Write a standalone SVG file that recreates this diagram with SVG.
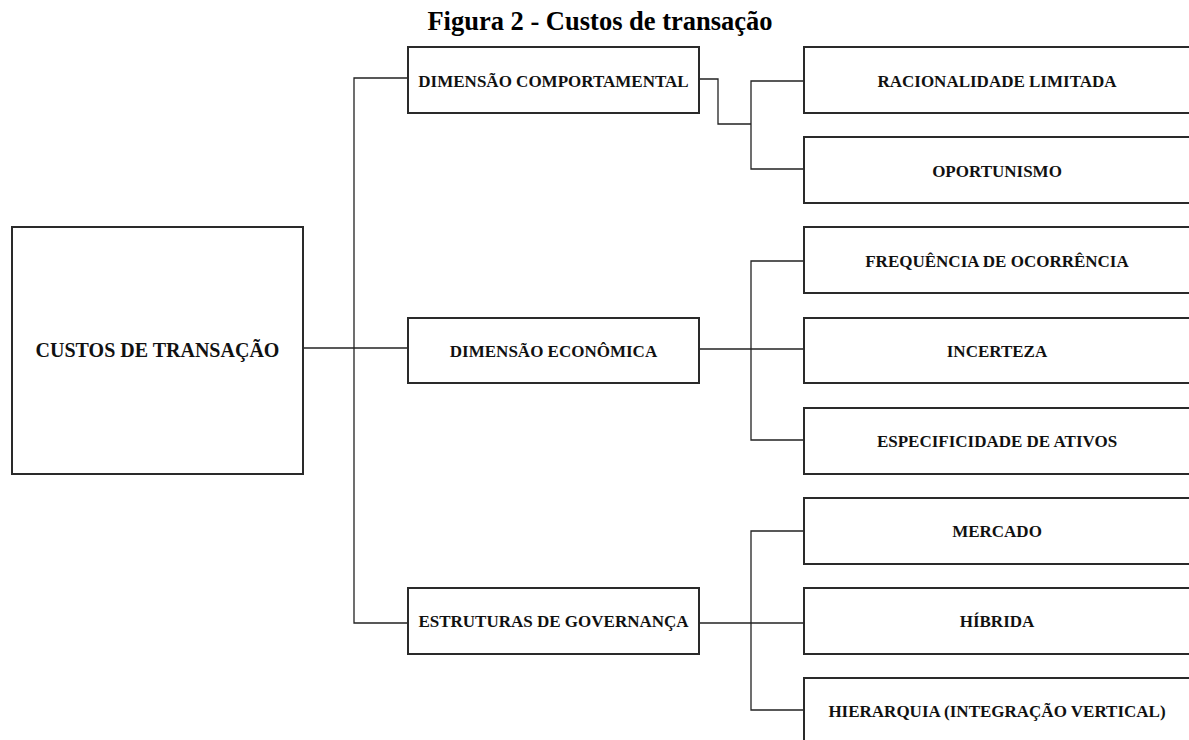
<svg xmlns="http://www.w3.org/2000/svg" width="1189" height="740" viewBox="0 0 1189 740">
<style>
.box{fill:#fff;stroke:#2a2a2a;stroke-width:2}
.lbl{font-family:"Liberation Serif","Times New Roman",serif;font-weight:bold;font-size:17px;fill:#111;text-anchor:middle}
.conn{fill:none;stroke:#222;stroke-width:1.3}
</style>
<rect width="1189" height="740" fill="#fff"/>
<text x="600" y="30" style="font-family:'Liberation Serif','Times New Roman',serif;font-weight:bold;font-size:26.5px;fill:#000;text-anchor:middle">Figura 2 - Custos de transação</text>
<g id="connectors">
<polyline class="conn" points="303,348 408,348"/>
<polyline class="conn" points="408,78 354,78 354,623 408,623"/>
<polyline class="conn" points="699,79 718,79 718,124 751,124"/>
<polyline class="conn" points="804,81 751,81 751,169 804,169"/>
<polyline class="conn" points="699,349 804,349"/>
<polyline class="conn" points="804,261 751,261 751,440 804,440"/>
<polyline class="conn" points="699,623 804,623"/>
<polyline class="conn" points="804,531 751,531 751,710 804,710"/>
</g>
<g id="n-custos"><rect class="box" x="12" y="227" width="291" height="247"/><text class="lbl" x="157.5" y="357" style="font-size:20px">CUSTOS DE TRANSAÇÃO</text></g>
<g id="n-comportamental"><rect class="box" x="408" y="47" width="291" height="66"/><text class="lbl" x="553.5" y="87">DIMENSÃO COMPORTAMENTAL</text></g>
<g id="n-economica"><rect class="box" x="408" y="318" width="291" height="65"/><text class="lbl" x="553.5" y="357">DIMENSÃO ECONÔMICA</text></g>
<g id="n-governanca"><rect class="box" x="408" y="588" width="291" height="66"/><text class="lbl" x="553.5" y="627">ESTRUTURAS DE GOVERNANÇA</text></g>
<g id="n-racionalidade"><rect class="box" x="804" y="47" width="390" height="66"/><text class="lbl" x="997" y="87">RACIONALIDADE LIMITADA</text></g>
<g id="n-oportunismo"><rect class="box" x="804" y="137" width="390" height="66"/><text class="lbl" x="997" y="177">OPORTUNISMO</text></g>
<g id="n-frequencia"><rect class="box" x="804" y="227" width="390" height="66"/><text class="lbl" x="997" y="267">FREQUÊNCIA DE OCORRÊNCIA</text></g>
<g id="n-incerteza"><rect class="box" x="804" y="318" width="390" height="65"/><text class="lbl" x="997" y="357">INCERTEZA</text></g>
<g id="n-especificidade"><rect class="box" x="804" y="408" width="390" height="66"/><text class="lbl" x="997" y="447">ESPECIFICIDADE DE ATIVOS</text></g>
<g id="n-mercado"><rect class="box" x="804" y="498" width="390" height="66"/><text class="lbl" x="997" y="537">MERCADO</text></g>
<g id="n-hibrida"><rect class="box" x="804" y="588" width="390" height="66"/><text class="lbl" x="997" y="627">HÍBRIDA</text></g>
<g id="n-hierarquia"><rect class="box" x="804" y="678" width="390" height="70"/><text class="lbl" x="997" y="717">HIERARQUIA (INTEGRAÇÃO VERTICAL)</text></g>
</svg>
